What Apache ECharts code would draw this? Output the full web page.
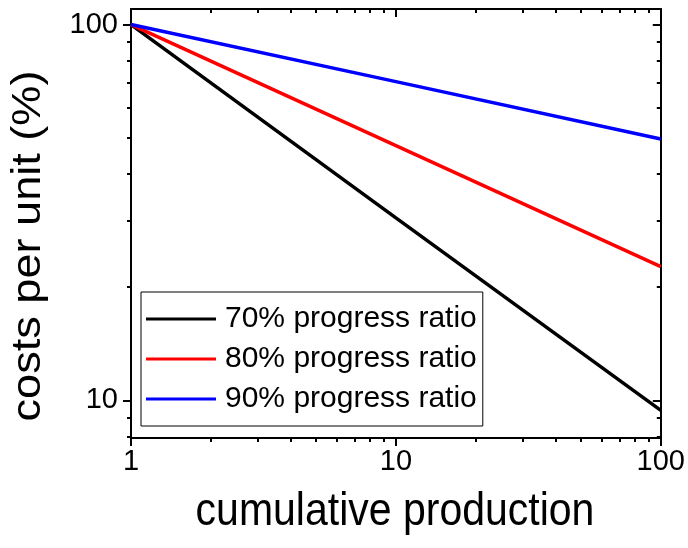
<!DOCTYPE html>
<html>
<head>
<meta charset="utf-8">
<script src="https://cdn.jsdelivr.net/npm/echarts@6/dist/echarts.min.js"></script>
<style>
  html, body { margin: 0; padding: 0; background: #fff; }
  #chart { width: 688px; height: 548px; }
</style>
</head>
<body>
<div id="chart"></div>
<script>
// Learning curves: unit cost vs. cumulative production (log-log)
const production = [1, 10, 100];
const ratio70 = [100, 30.6, 9.4];
const ratio80 = [100, 47.6, 22.7];
const ratio90 = [100, 70.5, 49.6];
const seriesNames = ['70% progress ratio', '80% progress ratio', '90% progress ratio'];

const xMajor = [1, 10, 100];
const xMinor = [2, 3, 4, 5, 6, 7, 8, 9, 20, 30, 40, 50, 60, 70, 80, 90];
const yMajor = [10, 100];
const yMinor = [8, 9, 20, 30, 40, 50, 60, 70, 80, 90];

const FONT = 'Liberation Sans, Arial, sans-serif';
const xRange = { min: 1, max: 100 };
const yRange = { min: 7.94, max: 110 };

function axis(kind, position, ticks, len, inside, showLine, labels) {
  const r = kind === 'x' ? xRange : yRange;
  return {
    type: 'log', logBase: 10, position: position,
    min: r.min, max: r.max,
    axisLine: { show: showLine, onZero: false, lineStyle: { color: '#000', width: 2 } },
    axisTick: { show: true, inside: inside, length: len, customValues: ticks,
                lineStyle: { color: '#000', width: 2 } },
    axisLabel: labels ? { show: true, customValues: labels, fontFamily: FONT, fontSize: 29,
                          color: '#000', margin: kind === 'x' ? 9 : 13 } : { show: false },
    splitLine: { show: false },
    minorTick: { show: false },
    minorSplitLine: { show: false }
  };
}

function toPairs(vals) { return production.map((p, i) => [p, vals[i]]); }

const colors = ['#000000', '#ff0000', '#0000ff'];
const data = [ratio70, ratio80, ratio90];

const chart = echarts.init(document.getElementById('chart'), null, { renderer: 'canvas' });
chart.setOption({
  animation: false,
  backgroundColor: '#fff',
  grid: { left: 131, right: 27, top: 9, bottom: 110, containLabel: false },
  xAxis: [
    axis('x', 'bottom', xMajor, 8, false, true, xMajor),
    axis('x', 'bottom', xMinor, 4, false, false, null),
    axis('x', 'top', xMajor, 8, true, true, null),
    axis('x', 'top', xMinor, 4, true, false, null)
  ],
  yAxis: [
    axis('y', 'left', yMajor, 8, false, true, yMajor),
    axis('y', 'left', yMinor, 4, false, false, null),
    axis('y', 'right', yMajor, 8, true, true, null),
    axis('y', 'right', yMinor, 4, true, false, null)
  ],
  legend: {
    orient: 'vertical', left: 141, top: 292,
    padding: [7, 6, 7, 5], itemGap: 0, itemWidth: 70, itemHeight: 3,
    icon: 'rect',
    backgroundColor: '#fff', borderColor: '#000', borderWidth: 1,
    textStyle: { fontFamily: FONT, fontSize: 30, color: '#000', lineHeight: 40, padding: [0, 0, 0, 4] },
    data: seriesNames
  },
  series: seriesNames.map((name, i) => ({
    name: name, type: 'line', xAxisIndex: 0, yAxisIndex: 0,
    data: toPairs(data[i]), showSymbol: false, symbol: 'none',
    lineStyle: { color: colors[i], width: 3.5 }, itemStyle: { color: colors[i] },
    z: 3
  })),
  graphic: [
    { type: 'text', x: 395, y: 512, scaleY: 1.12,
      style: { text: 'cumulative production', fontFamily: FONT, fontSize: 41, fill: '#000',
               align: 'center', verticalAlign: 'middle' } },
    { type: 'text', x: 29, y: 246, rotation: Math.PI / 2, scaleX: 1.1,
      style: { text: 'costs per unit (%)', fontFamily: FONT, fontSize: 41, fill: '#000',
               align: 'center', verticalAlign: 'middle' } }
  ]
});
</script>
</body>
</html>
